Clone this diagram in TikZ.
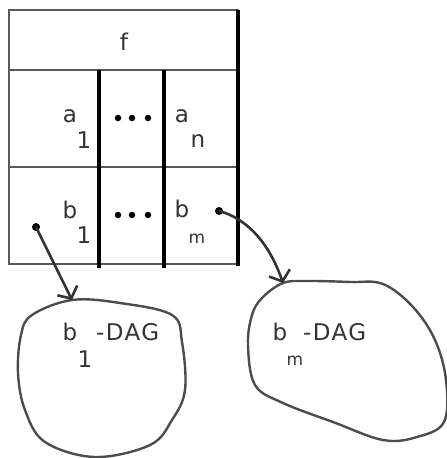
\documentclass[tikz,border=0pt]{standalone}
\usepackage{fontspec}
\setmainfont{DejaVu Sans}
\usetikzlibrary{arrows.meta}

\tikzset{
  edge/.style={draw=black!65, line width=2.6pt},
  divider/.style={draw=black, line width=3.6pt},
  lbl/.style={anchor=base, inner sep=0pt, text=black!80,
    font=\fontsize{23}{23}\selectfont},
  ellip/.style={fill=black, circle, inner sep=0pt, minimum size=6.5pt},
  blob/.style={draw=black!70, line width=2.4pt},
  link/.style={draw=black!80, line width=2.6pt,
    -{Straight Barb[length=9pt, width=22pt, line width=2.6pt]}},
  pin/.style={fill=black, circle, inner sep=0pt, minimum size=8pt}
}

\begin{document}
\begin{tikzpicture}[x=1pt, y=-1pt]
\useasboundingbox (0,0) rectangle (447,458);

% record frame
\draw[edge] (9,10) rectangle (238,264);
\draw[edge] (9,70) -- (238,70);
\draw[edge] (9,167) -- (238,167);
\draw[divider] (99,70) -- (99,268);
\draw[divider] (164,70) -- (164,268);
\draw[divider] (238,10) -- (238,266);

% header
\node[lbl] (f) at (124,50) {f};

% argument row
\node[lbl] (a1) at (70,122) {a};
\node[lbl] (a1s) at (84,148) {1};
\node[ellip] (da1) at (118,118) {};
\node[ellip] (da2) at (132,118) {};
\node[ellip] (da3) at (148,118) {};
\node[lbl] (an) at (182,122) {a};
\node[lbl] (ans) at (198,147) {n};

% pointer row
\node[lbl] (b1) at (70,218) {b};
\node[lbl] (b1s) at (84,243) {1};
\node[ellip] (db1) at (118,215) {};
\node[ellip] (db2) at (132,215) {};
\node[ellip] (db3) at (148,215) {};
\node[lbl] (bm) at (182,217) {b};
\node[lbl, font=\fontsize{17}{17}\selectfont] (bms) at (197,243) {m};

\node[pin] (p1) at (36,227) {};
\node[pin] (pm) at (219,211) {};

% sub-DAG outlines
\draw[blob] plot[smooth cycle, tension=0.6] coordinates {
  (72,300) (120,303) (172,315) (182,342) (185,390) (172,420) (150,445)
  (95,457) (45,442) (25,410) (18,373) (21,335) (32,315)};
\draw[blob] plot[smooth cycle, tension=0.6] coordinates {
  (283,283) (307,281) (350,282) (383,284) (413,307) (435,340) (446,380)
  (444,422) (417,437) (383,440) (333,422) (283,403) (255,385) (248,345)
  (252,315) (262,298)};

\coordinate (t1) at (72,300);
\coordinate (tm) at (283,283);

\node[lbl] (l1) at (70,340) {b};
\node[lbl, anchor=base west] (l1d) at (96,340) {\addfontfeatures{LetterSpace=6}-DAG};
\node[lbl] (l1s) at (85,367) {1};

\node[lbl] (lm) at (280,340) {b};
\node[lbl, anchor=base west] (lmd) at (303,340) {\addfontfeatures{LetterSpace=6}-DAG};
\node[lbl, font=\fontsize{17}{17}\selectfont] (lms) at (295,365) {m};

% pointers into the sub-DAGs
\draw[link] (p1.center) -- (t1);
\draw[link] (pm.center) .. controls (245,218) and (268,240) .. (tm);
\end{tikzpicture}
\end{document}
